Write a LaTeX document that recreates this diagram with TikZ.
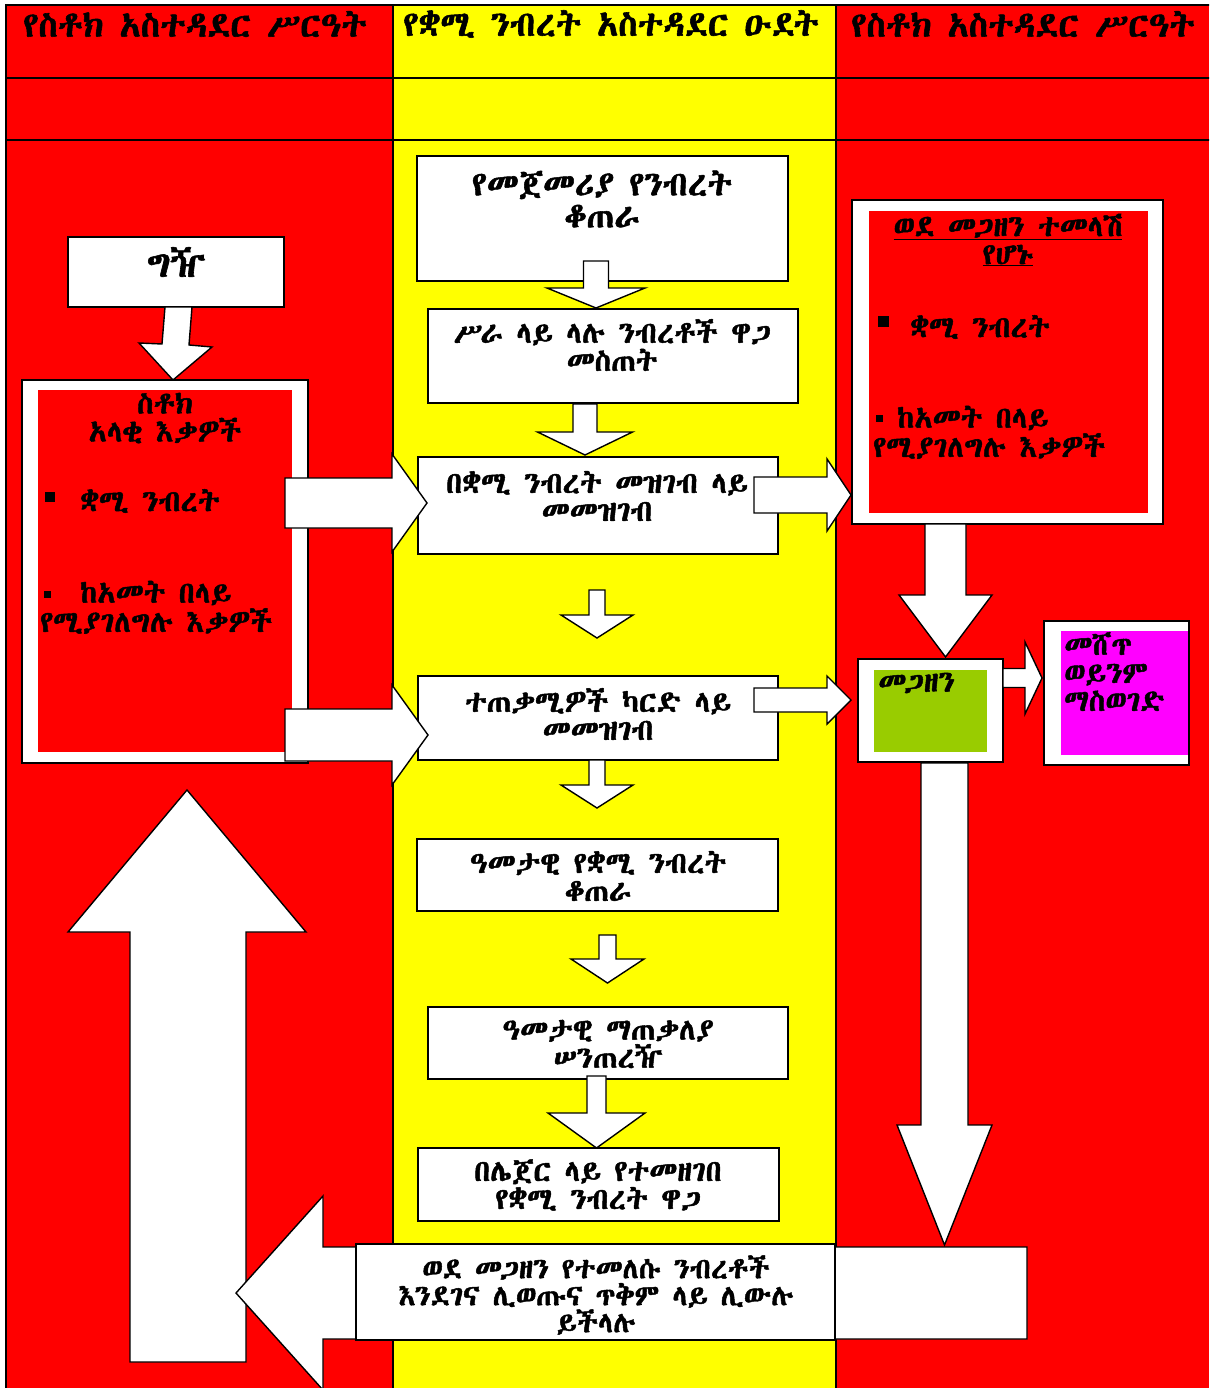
\documentclass[tikz,border=0pt]{standalone}
\usepackage{fontspec}
\IfFontExistsTF{Abyssinica SIL}{\newfontfamily\ethbase[AutoFakeBold=1.6]{Abyssinica SIL}}{%
 \IfFontExistsTF{Noto Sans Ethiopic}{\newfontfamily\ethbase[AutoFakeBold=1.6]{Noto Sans Ethiopic}}{%
  \IfFontExistsTF{FreeSerif}{\newfontfamily\ethbase[AutoFakeBold=1.6]{FreeSerif}}{%
   \newfontfamily\ethbase{DejaVu Sans}}}}
\newcommand\hdrfont{\ethbase\bfseries\fontsize{35}{40}\selectfont}
\newcommand\bodyfont{\ethbase\bfseries\fontsize{30}{28}\selectfont}
\newcommand\bigbodyfont{\ethbase\bfseries\fontsize{34}{32}\selectfont}
\definecolor{cred}{HTML}{FF0000}
\definecolor{cyel}{HTML}{FFFF00}
\definecolor{cgreen}{HTML}{99CC00}
\definecolor{cmag}{HTML}{FF00FF}
\newcommand\darrow[6]{% cx, shaft half, head half, ytop, yhead, ytip
 \draw[blk] ({#1-#2},#4) -- ({#1+#2},#4) -- ({#1+#2},#5) -- ({#1+#3},#5) -- (#1,#6) -- ({#1-#3},#5) -- ({#1-#2},#5) -- cycle;}
\newcommand\rarrow[6]{% cy, shaft half, head half, xleft, xhead, xtip
 \draw[blk] (#4,{#1-#2}) -- (#5,{#1-#2}) -- (#5,{#1-#3}) -- (#6,#1) -- (#5,{#1+#3}) -- (#5,{#1+#2}) -- (#4,{#1+#2}) -- cycle;}
\begin{document}
\begin{tikzpicture}[x=1pt,y=-1pt,
  box/.style={draw=black,line width=1.4pt,fill=white,inner sep=0pt},
  panel/.style={draw=none,inner sep=0pt},
  blk/.style={draw=black,line width=1.4pt,fill=white,line join=miter},
  txt/.style={font=\bodyfont,align=center,inner sep=0pt,text=black},
  hdr/.style={font=\hdrfont,align=center,inner sep=0pt,text=black},
  bul/.style={fill=black,inner sep=0pt,draw=none}]
\useasboundingbox (0,0) rectangle (1209,1388);
\clip (0,0) rectangle (1209,1388);
\fill[white] (0,0) rectangle (1209,1388);
% columns
\fill[cred] (6,5) rectangle (393,1392);
\fill[cyel] (393,5) rectangle (836,1392);
\fill[cred] (836,5) rectangle (1209,1392);
\draw[line width=1.6pt] (6,1392) -- (6,5) -- (1212,5);
\draw[line width=1.6pt] (6,78) -- (1212,78);
\draw[line width=1.6pt] (6,140) -- (1212,140);
\draw[line width=1.2pt] (393,5) -- (393,1392);
\draw[line width=1.2pt] (836,5) -- (836,1392);
% headers
\node[hdr] (h1) at (195,24) {የስቶክ አስተዳደር ሥርዓት};
\node[hdr] (h2) at (611,24) {የቋሚ ንብረት አስተዳደር ዑደት};
\node[hdr] (h3) at (1023,24) {የስቶክ አስተዳደር ሥርዓት};
% left column
\node[box,minimum width=216pt,minimum height=70pt] (gzb) at (176,272) {};
\node[txt,font=\ethbase\bfseries\fontsize{38}{40}\selectfont] (gz) at (176,262) {ግዥ};
\draw[blk] (165,307) -- (192,307) -- (189,345) -- (212,347) -- (173,380) -- (139,343) -- (162,344) -- cycle;
\node[box,minimum width=286pt,minimum height=383pt] (stko) at (165,571.5) {};
\node[panel,fill=cred,minimum width=254pt,minimum height=362pt] (stki) at (165,571) {};
\node[txt] (stk) at (165,418) {ስቶክ\\አላቂ እቃዎች};
\node[bul,minimum size=10pt] (lb1) at (50,497) {};
\node[txt,anchor=west] (l1) at (80,501) {ቋሚ ንብረት};
\node[bul,minimum size=7pt] (lb2) at (47,594) {};
\node[txt,anchor=west] (l2) at (80,593) {ከአመት በላይ};
\node[txt,anchor=west] (l3) at (40,621) {የሚያገለግሉ እቃዎች};
\draw[blk] (130,1362) -- (130,932) -- (68,932) -- (187,790) -- (306,932) -- (246,932) -- (246,1362) -- cycle;
% middle column boxes
\node[box,minimum width=371pt,minimum height=125pt] (m1) at (602.5,218.5) {};
\node[txt,font=\bigbodyfont] (t1) at (602,199) {የመጀመሪያ የንብረት\\ቆጠራ};
\node[box,minimum width=370pt,minimum height=94pt] (m2) at (613,356) {};
\node[txt] (t2) at (612,345) {ሥራ ላይ ላሉ ንብረቶች ዋጋ\\መስጠት};
\node[box,minimum width=360pt,minimum height=97pt] (m3) at (598,505.5) {};
\node[txt] (t3) at (597,496) {በቋሚ ንብረት መዝገብ ላይ\\መመዝገብ};
\node[box,minimum width=360pt,minimum height=84pt] (m4) at (598,718) {};
\node[txt] (t4) at (598,714) {ተጠቃሚዎች ካርድ ላይ\\መመዝገብ};
\node[box,minimum width=361pt,minimum height=72pt] (m5) at (597.5,875) {};
\node[txt] (t5) at (598,876) {ዓመታዊ የቋሚ ንብረት\\ቆጠራ};
\node[box,minimum width=360pt,minimum height=72pt] (m6) at (608,1043) {};
\node[txt] (t6) at (608,1044) {ዓመታዊ ማጠቃለያ\\ሠንጠረዥ};
\node[box,minimum width=361pt,minimum height=73pt] (m7) at (598.5,1184.5) {};
\node[txt] (t7) at (598,1185) {በሌጀር ላይ የተመዘገበ\\የቋሚ ንብረት ዋጋ};
% middle down arrows
\darrow{596}{12.5}{49}{261}{288}{308}
\darrow{585}{12}{47.5}{404}{432}{455}
\darrow{597}{8}{36}{590}{615}{638}
\darrow{597}{8}{36}{760}{785}{808}
\darrow{607.5}{8.5}{36.5}{935}{959}{983}
\darrow{596.5}{9.5}{48.5}{1076}{1113}{1148}
% left-to-middle arrows
\rarrow{503}{25}{49}{285}{392}{427}
\rarrow{735}{26}{50}{285}{392}{428}
% right column
\node[box,minimum width=311pt,minimum height=324pt] (reto) at (1007.5,362) {};
\node[panel,fill=cred,minimum width=279pt,minimum height=302pt] (reti) at (1008.5,362) {};
\node[txt] (rt) at (1008,240) {\underline{ወደ መጋዘን ተመላሽ}\\\underline{የሆኑ}};
\node[bul,minimum size=11pt] (rb1) at (883,321) {};
\node[txt,anchor=west] (r1) at (910,327) {ቋሚ ንብረት};
\node[bul,minimum size=7pt] (rb2) at (879,418) {};
\node[txt,anchor=west] (r2) at (897,418) {ከአመት በላይ};
\node[txt,anchor=west] (r3) at (873,446) {የሚያገለግሉ እቃዎች};
\rarrow{495}{18}{36}{754}{827}{851}
\rarrow{700}{12}{24}{754}{827}{851}
\darrow{945.5}{20.5}{46.5}{524}{595}{657}
\node[box,minimum width=145pt,minimum height=103pt] (sto) at (930.5,710.5) {};
\node[panel,fill=cgreen,minimum width=113pt,minimum height=82pt] (sti) at (930.5,711) {};
\node[txt,anchor=west] (st) at (878,683) {መጋዘን};
\rarrow{678}{9.5}{36}{1003}{1025}{1042}
\node[box,minimum width=145pt,minimum height=144pt] (sello) at (1116.5,693) {};
\node[panel,fill=cmag,minimum width=127pt,minimum height=124pt] (selli) at (1124.5,693) {};
\node[txt,anchor=north west,align=left] (sl) at (1064,632) {መሸጥ\\ወይንም\\ማስወገድ};
\darrow{944.5}{23.5}{47.5}{763}{1125}{1245}
% bottom returning arrow
\draw[blk] (1027,1247) -- (1027,1339) -- (323,1339) -- (323,1390) -- (236,1293) -- (323,1196) -- (323,1247) -- cycle;
\node[box,minimum width=479pt,minimum height=96pt] (bt) at (595.5,1292) {};
\node[txt,font=\ethbase\bfseries\fontsize{29}{27}\selectfont] (btt) at (596,1295) {ወደ መጋዘን የተመለሱ ንብረቶች\\እንደገና ሊወጡና ጥቅም ላይ ሊውሉ\\ይችላሉ};
\end{tikzpicture}
\end{document}
